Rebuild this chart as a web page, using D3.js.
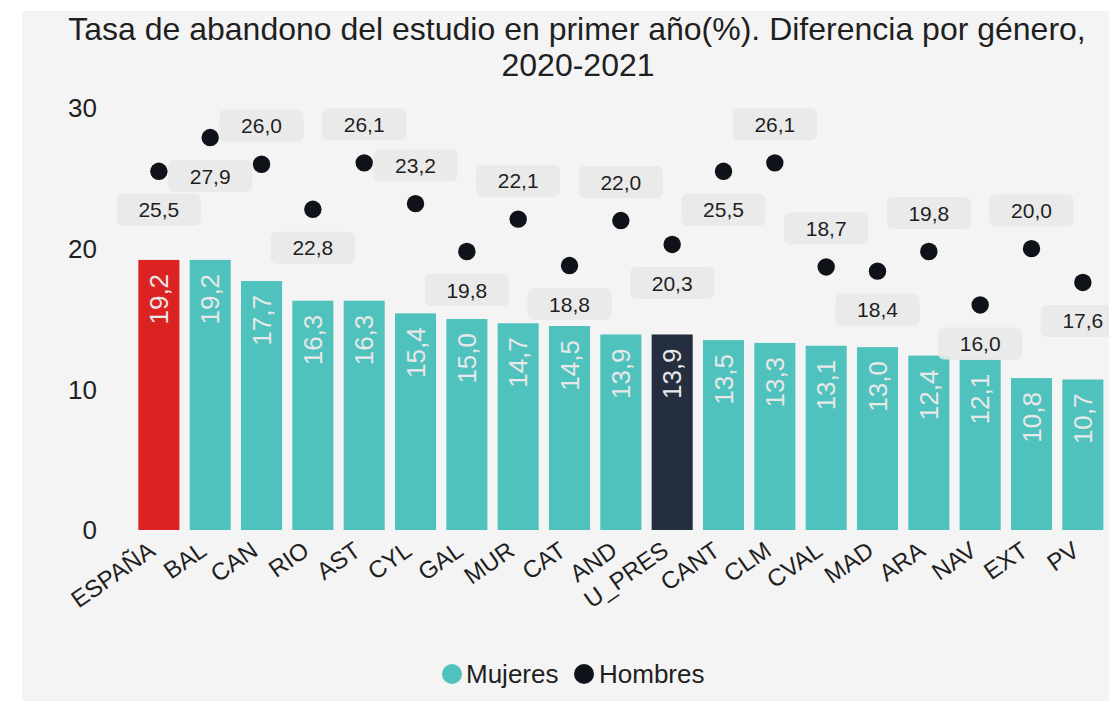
<!DOCTYPE html>
<html>
<head>
<meta charset="utf-8">
<script src="https://cdn.jsdelivr.net/npm/d3@7"></script>
<style>
  body { margin: 0; background: #fff; }
  svg { display: block; font-family: "Liberation Sans", Arial, sans-serif; }
</style>
</head>
<body>
<svg width="1109" height="701"></svg>
<script>
var categories = ["ESPAÑA", "BAL", "CAN", "RIO", "AST", "CYL", "GAL", "MUR", "CAT", "AND",
                  "U_PRES", "CANT", "CLM", "CVAL", "MAD", "ARA", "NAV", "EXT", "PV"];
var mujeres = [19.2, 19.2, 17.7, 16.3, 16.3, 15.4, 15.0, 14.7, 14.5, 13.9,
               13.9, 13.5, 13.3, 13.1, 13.0, 12.4, 12.1, 10.8, 10.7];
var hombres = [25.5, 27.9, 26.0, 22.8, 26.1, 23.2, 19.8, 22.1, 18.8, 22.0,
               20.3, 25.5, 26.1, 18.7, 18.4, 19.8, 16.0, 20.0, 17.6];
var yTicks = [0, 10, 20, 30];
// which side of the dot each Hombres label sits on
var labelSide = ["below", "below", "above", "below", "above", "above", "below", "above", "below", "above",
                 "below", "below", "above", "above", "below", "above", "below", "above", "below"];

var svg = d3.select("svg");
var fmt = function(v){ return d3.format(".1f")(v).replace(".", ","); };

svg.append("rect")
    .attr("x", 22).attr("y", 11)
    .attr("width", 1109 - 22).attr("height", 701 - 11)
    .attr("fill", "#f4f4f4");

// title
var title = svg.append("text")
    .attr("text-anchor", "middle")
    .attr("fill", "#1f1f1f")
    .style("font-size", "32px");
title.append("tspan").attr("x", 577).attr("y", 40)
    .text("Tasa de abandono del estudio en primer año(%). Diferencia por género,");
title.append("tspan").attr("x", 578).attr("y", 76).text("2020-2021");

var x = d3.scaleBand()
    .domain(categories)
    .range([133.2, 1108.5])
    .paddingInner(0.2)
    .paddingOuter(0.1);

var y = d3.scaleLinear()
    .domain([0, 30])
    .range([530, 108]);

// y axis labels
svg.append("g").selectAll("text")
    .data(yTicks)
    .enter().append("text")
    .attr("x", 97)
    .attr("y", function(d){ return y(d); })
    .attr("dy", "0.36em")
    .attr("text-anchor", "end")
    .attr("fill", "#1f1f1f")
    .style("font-size", "26px")
    .text(function(d){ return d; });

var barColor = function(c){
    if (c === "ESPAÑA") return "#dc2323";
    if (c === "U_PRES") return "#252e3e";
    return "#4fc2bd";
};

// bars
var bars = svg.append("g").selectAll("g")
    .data(categories)
    .enter().append("g");

bars.append("rect")
    .attr("x", function(d){ return x(d); })
    .attr("y", function(d, i){ return y(mujeres[i]); })
    .attr("width", x.bandwidth())
    .attr("height", function(d, i){ return y(0) - y(mujeres[i]); })
    .attr("fill", barColor);

bars.append("text")
    .attr("transform", function(d, i){
        return "translate(" + (x(d) + x.bandwidth() / 2) + "," + (y(mujeres[i]) + 14) + ") rotate(-90)";
    })
    .attr("dy", "0.35em")
    .attr("text-anchor", "end")
    .attr("fill", "#e8e8e8")
    .style("font-size", "26px")
    .text(function(d, i){ return fmt(mujeres[i]); });

// x labels
svg.append("g").selectAll("text")
    .data(categories)
    .enter().append("text")
    .attr("transform", function(d){
        return "translate(" + (x(d) + x.bandwidth() / 2 - 2) + ",554) rotate(-35)";
    })
    .attr("text-anchor", "end")
    .attr("fill", "#1f1f1f")
    .style("font-size", "24px")
    .text(function(d){ return d; });

// hombres dots
svg.append("g").selectAll("circle")
    .data(categories)
    .enter().append("circle")
    .attr("cx", function(d){ return x(d) + x.bandwidth() / 2; })
    .attr("cy", function(d, i){ return y(hombres[i]); })
    .attr("r", 8.7)
    .attr("fill", "#0f1218");

// hombres labels
var lab = svg.append("g").selectAll("g")
    .data(categories)
    .enter().append("g")
    .attr("transform", function(d, i){
        var off = labelSide[i] === "above" ? -38.5 : 38.5;
        return "translate(" + (x(d) + x.bandwidth() / 2) + "," + (y(hombres[i]) + off) + ")";
    });

lab.append("rect")
    .attr("x", -42).attr("y", -16)
    .attr("width", 84).attr("height", 32)
    .attr("rx", 6)
    .attr("fill", "#e8e8e8")
    .attr("fill-opacity", 0.92);

lab.append("text")
    .attr("text-anchor", "middle")
    .attr("dy", "0.36em")
    .attr("fill", "#1f1f1f")
    .style("font-size", "21px")
    .text(function(d, i){ return fmt(hombres[i]); });

// legend
var legend = svg.append("g");
legend.append("circle").attr("cx", 452).attr("cy", 674).attr("r", 10).attr("fill", "#4fc2bd");
legend.append("text").attr("x", 466).attr("y", 683).attr("fill", "#1f1f1f")
    .style("font-size", "26px").text("Mujeres");
legend.append("circle").attr("cx", 584).attr("cy", 674).attr("r", 10).attr("fill", "#0f1218");
legend.append("text").attr("x", 599).attr("y", 683).attr("fill", "#1f1f1f")
    .style("font-size", "26px").text("Hombres");
</script>
</body>
</html>
